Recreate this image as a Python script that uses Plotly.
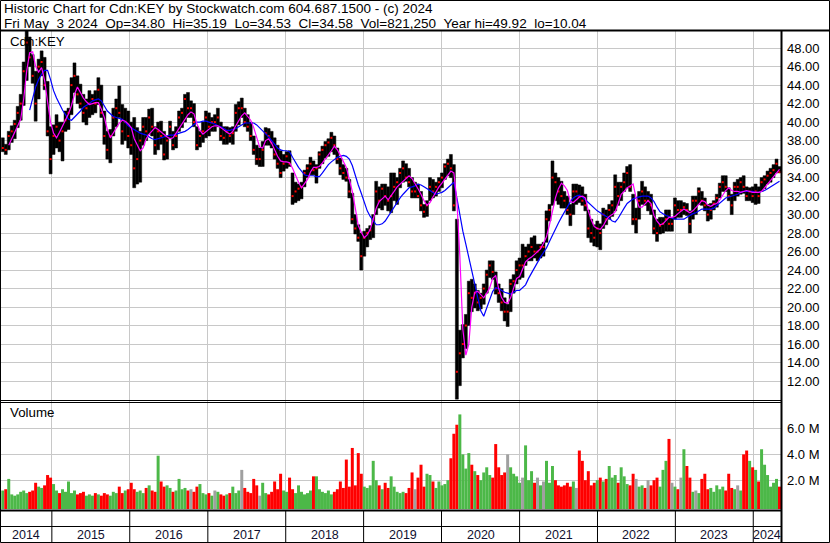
import plotly.graph_objects as go
import pandas as pd

# ---------------- data (2-week periods) ----------------
HIGH = [
    38.3, 37.6, 39.0, 39.6, 40.2, 41.7, 43.0, 46.5, 49.9, 49.2,
    47.3, 45.5, 46.8, 47.7, 47.0, 44.4, 39.5, 39.7, 40.8, 40.0,
    40.0, 41.2, 41.5, 44.8, 46.4, 45.0, 44.1, 43.0, 42.5, 43.4,
    43.0, 43.4, 44.8, 44.0, 41.2, 39.0, 39.2, 41.5, 42.5, 43.9,
    41.9, 41.5, 41.2, 40.0, 40.5, 39.4, 39.0, 40.5, 40.5, 41.4,
    41.5, 39.5, 40.0, 40.1, 39.0, 38.5, 40.1, 39.0, 39.5, 41.2,
    41.5, 43.0, 43.2, 42.3, 42.0, 39.5, 39.0, 40.0, 41.2, 41.0,
    40.5, 40.8, 41.5, 40.0, 39.5, 39.5, 39.4, 39.5, 41.9, 42.2,
    42.6, 41.5, 40.8, 40.0, 38.5, 37.5, 37.2, 37.9, 39.4, 39.3,
    39.0, 38.3, 37.5, 36.9, 36.5, 36.8, 36.9, 34.5, 33.5, 33.3,
    33.5, 34.8, 35.4, 36.2, 35.8, 35.4, 36.8, 37.4, 37.9, 38.2,
    38.9, 38.5, 37.2, 36.1, 35.4, 35.0, 33.8, 32.3, 30.0, 28.9,
    28.0, 28.2, 28.5, 28.8, 30.0, 33.6, 33.0, 33.3, 33.3, 33.0,
    34.5, 34.5, 34.0, 35.0, 35.8, 35.5, 35.0, 34.0, 33.5, 33.3,
    32.5, 31.1, 31.5, 34.0, 33.8, 33.5, 34.0, 34.5, 35.5, 36.0,
    36.5, 35.4, 29.5, 17.5, 18.1, 19.2, 22.8, 23.0, 22.5, 21.8,
    21.5, 22.5, 24.0, 25.0, 25.0, 23.8, 22.5, 22.0, 21.0, 20.3,
    23.0, 23.5, 25.0, 25.3, 26.8, 26.5, 26.8, 27.5, 27.7, 26.8,
    26.8, 27.0, 30.4, 31.1, 35.8, 34.5, 34.0, 33.6, 32.5, 32.0,
    31.1, 33.3, 33.3, 33.2, 33.0, 32.2, 30.5, 29.5, 28.9, 29.3,
    29.0, 30.7, 30.5, 31.1, 31.5, 34.3, 33.5, 33.5, 34.5, 35.2,
    35.4, 32.2, 30.7, 32.5, 33.6, 33.0, 32.5, 32.2, 30.5, 29.5,
    29.7, 29.7, 30.5, 30.5, 29.7, 31.8, 31.5, 31.5, 31.3, 31.2,
    30.4, 32.0, 32.0, 32.9, 32.5, 31.8, 31.1, 31.2, 31.5, 32.2,
    33.4, 34.2, 34.2, 32.9, 32.2, 33.5, 33.8, 34.0, 34.2, 33.0,
    32.9, 33.0, 33.3, 33.0, 34.0, 34.2, 34.7, 35.0, 35.4, 36.0,
    35.19,
]

LOW = [
    36.8, 36.5, 37.0, 37.8, 38.2, 39.4, 40.2, 41.8, 44.5, 46.0,
    44.2, 40.1, 42.5, 45.0, 43.5, 38.5, 34.4, 36.5, 37.2, 36.8,
    35.8, 39.0, 39.2, 40.8, 43.2, 42.0, 41.5, 40.0, 39.7, 40.5,
    40.8, 41.0, 41.9, 40.5, 37.6, 36.0, 35.6, 38.5, 39.5, 40.5,
    37.6, 38.0, 37.2, 36.5, 32.9, 33.3, 33.5, 37.5, 38.0, 38.7,
    38.5, 36.5, 37.0, 37.6, 35.9, 36.0, 38.3, 37.0, 37.2, 39.0,
    39.4, 40.0, 40.5, 40.5, 39.5, 37.0, 37.3, 37.8, 38.3, 38.5,
    39.0, 39.0, 39.5, 38.0, 37.6, 37.6, 37.8, 37.6, 39.0, 39.7,
    40.5, 39.5, 39.0, 38.0, 36.5, 35.4, 35.2, 35.2, 37.5, 37.5,
    37.2, 36.0, 35.0, 34.0, 34.7, 35.0, 35.2, 31.1, 31.3, 31.5,
    31.7, 33.0, 34.0, 34.3, 34.3, 33.4, 35.0, 35.5, 36.1, 36.3,
    36.8, 36.5, 35.5, 34.3, 33.8, 33.6, 31.8, 29.0, 27.9, 27.1,
    24.0, 25.5, 26.5, 27.3, 27.5, 30.0, 30.7, 30.5, 31.0, 30.4,
    30.2, 31.5, 31.1, 32.9, 33.5, 33.6, 33.0, 31.8, 31.8, 31.8,
    30.4, 29.7, 29.8, 31.5, 31.8, 32.0, 32.5, 32.9, 33.8, 34.2,
    34.0, 30.4, 10.04, 11.5, 14.5, 15.5, 18.0, 19.5, 19.9, 19.6,
    19.8, 20.3, 21.5, 23.2, 23.0, 21.4, 20.5, 19.6, 18.5, 17.9,
    19.5, 21.5, 22.5, 23.0, 23.2, 24.5, 25.0, 25.0, 25.3, 25.0,
    25.3, 25.5, 27.0, 29.3, 31.0, 31.5, 31.1, 30.7, 30.7, 30.0,
    28.8, 30.0, 31.1, 31.3, 31.0, 30.4, 27.5, 27.0, 26.6, 26.5,
    26.2, 28.5, 28.9, 29.5, 29.8, 30.4, 31.0, 31.5, 32.5, 32.9,
    32.5, 28.9, 28.0, 29.5, 31.1, 31.0, 30.4, 30.0, 27.9, 27.1,
    27.9, 28.0, 28.2, 28.2, 28.2, 29.5, 29.7, 29.7, 30.0, 29.9,
    28.0, 29.5, 30.0, 31.1, 31.0, 30.4, 29.3, 29.5, 30.5, 30.8,
    31.8, 32.5, 32.5, 31.5, 30.0, 31.5, 32.0, 32.2, 32.3, 31.5,
    31.5, 31.3, 31.1, 31.2, 32.5, 32.8, 33.3, 33.5, 34.0, 34.5,
    34.53,
]

CLOSE = [
    37.2, 37.0, 38.5, 39.0, 39.8, 41.0, 42.0, 45.5, 48.6, 47.0,
    45.0, 42.0, 46.0, 46.5, 44.0, 39.0, 36.0, 38.5, 39.5, 38.0,
    39.0, 40.2, 41.0, 44.0, 45.0, 43.0, 42.0, 41.0, 41.5, 42.0,
    42.5, 42.0, 43.5, 41.0, 38.5, 37.0, 38.5, 40.5, 41.5, 41.0,
    39.0, 40.0, 38.5, 37.5, 35.0, 36.0, 38.0, 39.5, 39.0, 40.5,
    39.5, 37.5, 39.0, 38.5, 36.5, 38.0, 39.5, 37.5, 38.5, 40.5,
    41.0, 42.5, 41.5, 41.5, 40.0, 37.5, 38.5, 39.0, 40.5, 39.5,
    40.0, 40.0, 40.5, 38.5, 38.3, 39.0, 38.5, 38.8, 41.0, 41.5,
    41.5, 40.0, 39.5, 38.5, 37.0, 36.0, 36.0, 37.0, 38.8, 38.5,
    37.8, 36.5, 35.5, 34.5, 35.5, 36.3, 35.5, 32.0, 32.5, 32.8,
    33.0, 34.5, 35.0, 35.5, 34.8, 35.0, 36.5, 37.0, 37.5, 37.8,
    38.3, 37.5, 36.0, 35.0, 34.5, 34.0, 32.5, 29.5, 28.5, 27.5,
    25.5, 27.5, 28.0, 28.3, 29.5, 32.5, 31.5, 32.8, 32.0, 31.5,
    32.0, 33.0, 33.5, 34.5, 35.0, 34.0, 33.5, 32.5, 32.5, 32.0,
    31.0, 30.3, 31.0, 33.0, 32.5, 33.0, 33.5, 34.0, 35.2, 35.5,
    35.0, 31.0, 13.0, 15.0, 16.0, 18.0, 21.5, 21.0, 21.5, 20.5,
    21.0, 22.0, 23.5, 24.5, 23.8, 22.0, 21.5, 20.5, 19.5, 19.5,
    22.5, 22.8, 24.0, 24.5, 24.5, 25.5, 26.0, 26.5, 26.0, 26.0,
    26.5, 26.5, 29.5, 30.5, 34.0, 33.5, 32.5, 32.0, 31.5, 30.5,
    30.0, 32.5, 32.5, 32.0, 31.5, 31.0, 28.5, 28.0, 27.5, 28.5,
    28.0, 30.0, 29.5, 30.5, 31.0, 33.0, 32.0, 33.0, 33.5, 34.5,
    33.0, 29.5, 29.5, 31.5, 32.5, 31.5, 31.5, 31.0, 28.5, 28.0,
    28.8, 29.0, 29.5, 29.0, 29.0, 31.0, 30.5, 30.5, 30.8, 30.5,
    29.0, 31.5, 31.5, 32.5, 31.5, 31.0, 30.0, 30.5, 31.2, 31.8,
    33.0, 33.5, 33.0, 32.0, 31.0, 33.0, 33.0, 33.5, 33.0, 32.0,
    32.5, 32.0, 32.5, 32.0, 33.5, 33.8, 34.2, 34.5, 34.8, 35.5,
    34.58,
]

MA_FAST = [
    None, None, 37.5, 38.2, 38.8, 39.6, 40.3, 42.5, 45.5, 47.5,
    47.6, 46.0, 45.4, 45.9, 44.5, 42.2, 40.0, 38.8, 38.3, 38.9,
    39.6, 40.2, 40.9, 41.8, 43.0, 43.8, 43.2, 42.6, 42.2, 41.9,
    42.0, 42.1, 42.1, 41.4, 40.5, 39.2, 38.3, 38.8, 39.4, 39.9,
    40.2, 40.1, 39.8, 39.4, 38.2, 37.5, 36.9, 37.2, 38.2, 38.7,
    39.1, 39.4, 39.2, 38.9, 38.6, 38.4, 38.2, 38.3, 38.8, 39.3,
    39.8, 40.4, 40.8, 41.1, 40.9, 39.8, 39.1, 38.7, 39.0, 39.3,
    39.5, 39.6, 39.6, 39.4, 39.1, 38.9, 38.7, 39.0, 39.6, 40.2,
    40.7, 41.0, 40.6, 40.2, 39.4, 38.4, 37.3, 37.2, 38.0, 38.2,
    37.7, 37.0, 36.3, 35.8, 35.7, 35.7, 35.6, 35.0, 34.2, 33.5,
    32.9, 33.3, 33.8, 34.6, 35.1, 35.1, 35.2, 35.6, 36.0, 36.5,
    36.9, 37.4, 37.0, 36.4, 35.7, 35.1, 33.8, 32.5, 30.7, 28.8,
    28.1, 27.5, 27.8, 28.4, 29.5, 30.7, 31.4, 31.7, 32.0, 31.6,
    32.0, 32.5, 33.0, 33.3, 33.6, 34.0, 34.2, 33.9, 33.4, 32.8,
    32.2, 31.5, 31.0, 31.3, 31.9, 32.5, 33.0, 33.4, 33.8, 34.2,
    34.7, 34.5, 31.5, 25.5, 17.6, 14.8, 16.0, 20.0, 21.6, 21.7,
    21.3, 21.0, 21.5, 22.1, 23.1, 23.4, 22.0, 21.0, 20.5, 20.4,
    21.0, 22.2, 23.1, 23.3, 24.1, 24.9, 25.2, 25.4, 25.7, 26.0,
    26.3, 26.9, 27.6, 28.9, 30.3, 31.8, 32.8, 33.4, 33.1, 32.6,
    31.4, 31.3, 31.6, 31.9, 32.0, 31.8, 30.4, 29.4, 28.7, 28.5,
    28.4, 28.8, 29.4, 29.8, 30.0, 30.3, 31.2, 32.2, 32.5, 32.9,
    33.1, 33.3, 31.8, 30.8, 30.8, 31.1, 31.5, 31.2, 29.9, 29.3,
    28.9, 29.0, 29.4, 29.7, 29.7, 29.8, 30.1, 30.4, 30.6, 30.4,
    30.2, 30.4, 30.7, 31.1, 31.5, 31.4, 31.0, 30.9, 31.1, 31.2,
    31.6, 32.1, 32.6, 32.9, 32.6, 32.5, 32.5, 32.4, 32.5, 32.6,
    32.5, 32.4, 32.4, 32.4, 32.5, 32.9, 33.3, 33.8, 34.2, 34.6,
    34.9,
]

MA_SLOW = [
    None, None, None, None, None, None, None, None, None, 41.3,
    42.6, 43.8, 44.6, 45.2, 45.6, 45.6, 44.6, 43.4, 42.6, 41.9,
    41.3, 40.8, 40.3, 40.2, 40.5, 40.9, 41.2, 41.6, 41.8, 42.0,
    42.3, 42.4, 42.5, 42.3, 41.8, 41.2, 40.9, 40.6, 40.5, 40.4,
    40.3, 40.0, 39.6, 39.4, 39.2, 39.0, 38.8, 38.7, 38.6, 38.4,
    38.2, 38.1, 38.2, 38.3, 38.4, 38.5, 38.6, 38.6, 38.7, 38.8,
    38.9, 39.0, 39.2, 39.5, 39.8, 40.0, 40.0, 40.1, 40.1, 40.0,
    39.9, 39.8, 39.6, 39.5, 39.3, 39.1, 39.1, 39.2, 39.3, 39.5,
    39.7, 39.9, 39.9, 39.9, 39.9, 39.7, 39.4, 39.1, 38.8, 38.4,
    38.0, 37.6, 37.2, 37.0, 36.9, 36.9, 36.8, 36.2, 35.6, 35.1,
    34.7, 34.3, 34.2, 34.2, 34.2, 34.1, 34.1, 34.5, 35.0, 35.4,
    35.7, 36.0, 36.2, 36.3, 36.4, 36.3, 36.0, 35.3, 34.2, 33.2,
    32.3, 31.3, 30.4, 29.8, 29.3, 28.9, 28.9, 29.0, 29.3, 29.8,
    30.4, 30.9, 31.4, 31.8, 32.2, 32.5, 32.9, 33.0, 33.1, 33.3,
    33.2, 33.0, 32.8, 32.6, 32.4, 32.2, 32.3, 32.4, 32.6, 32.9,
    33.2, 33.5, 31.8, 29.8, 28.2, 26.8, 25.4, 23.9, 22.4, 21.0,
    19.6, 19.0, 19.9, 21.0, 21.7, 22.1, 22.0, 21.8, 21.6, 21.5,
    21.4, 21.6, 21.8, 21.8, 22.1, 22.4, 23.1, 23.7, 24.3, 24.9,
    25.4, 25.9, 26.4, 27.1, 27.8, 28.4, 29.1, 29.7, 30.3, 30.9,
    31.4, 31.8, 32.0, 32.1, 31.9, 31.6, 31.3, 30.9, 30.6, 30.4,
    30.2, 30.0, 29.8, 29.6, 29.3, 29.2, 29.6, 30.2, 30.7, 31.2,
    31.5, 31.7, 31.8, 31.9, 32.0, 32.0, 32.0, 31.8, 31.4, 30.8,
    30.3, 30.1, 29.9, 29.8, 29.6, 29.5, 29.5, 29.5, 29.5, 29.7,
    29.9, 30.1, 30.2, 30.4, 30.6, 30.6, 30.6, 30.6, 30.7, 31.0,
    31.3, 31.6, 31.8, 31.9, 32.0, 32.1, 32.2, 32.4, 32.5, 32.5,
    32.5, 32.5, 32.4, 32.4, 32.5, 32.6, 32.8, 33.0, 33.2, 33.4,
    33.6,
]

VOLUME_M = [
    1.2, 1.3, 2.1, 0.9, 0.8, 0.9, 1.1, 1.2, 1.0, 1.1,
    1.2, 1.8, 1.5, 1.4, 1.6, 2.4, 2.2, 1.7, 1.2, 1.0,
    1.3, 1.1, 1.9, 1.0, 1.2, 0.9, 1.0, 1.1, 0.8, 0.9,
    0.8, 1.0, 0.9, 0.8, 1.0, 0.9, 0.8, 1.1, 1.0, 1.5,
    1.0, 1.2, 1.3, 1.8, 1.3, 1.1, 1.2, 1.0, 1.4, 1.6,
    1.2, 1.1, 3.9, 1.9, 1.5, 1.6, 1.4, 1.1, 1.2, 2.1,
    1.3, 1.4, 1.2, 1.3, 1.1, 1.5, 1.7, 1.0, 0.9, 1.0,
    0.8, 1.2, 1.1, 0.9, 0.8, 0.9, 1.0, 1.5, 1.0, 1.2,
    2.8, 1.4, 1.1, 1.0, 2.1, 1.6, 0.8, 1.8, 1.0, 0.9,
    1.1, 1.9, 1.3, 2.5, 1.2, 1.1, 2.2, 1.3, 1.0, 1.6,
    1.1, 0.9, 1.0, 1.2, 2.3, 2.3, 1.3, 1.1, 1.0, 1.2,
    0.9, 1.1, 1.3, 1.9, 1.4, 3.6, 1.5, 4.5, 1.6, 4.1,
    2.5, 1.5, 1.4, 1.6, 3.5, 2.0, 1.6, 1.3, 1.8, 1.4,
    2.3, 1.5, 1.1, 1.0, 1.1, 1.0, 1.4, 2.6, 1.3, 2.2,
    3.2, 1.5, 2.5, 2.4, 1.9, 1.4, 1.9, 1.6, 1.7, 2.0,
    3.7, 5.6, 6.3, 7.1, 4.0, 2.9, 4.1, 3.2, 2.7, 2.4,
    2.0, 2.6, 3.0, 2.4, 2.2, 4.8, 3.0, 2.4, 2.6, 4.0,
    3.0, 2.5, 2.3, 1.8, 2.2, 4.7, 2.0, 2.7, 1.8, 2.2,
    1.6, 1.9, 3.5, 1.8, 3.1, 2.0, 1.6, 1.5, 1.6, 1.8,
    1.5, 1.9, 1.4, 4.3, 3.5, 2.0, 2.7, 1.6, 1.8, 2.0,
    2.2, 1.9, 2.1, 3.1, 2.2, 2.4, 1.8, 3.0, 2.3, 1.7,
    1.6, 2.5, 2.1, 1.5, 1.6, 1.4, 2.0, 1.6, 2.0, 2.2,
    1.5, 2.8, 3.5, 5.2, 1.8, 1.5, 1.3, 2.2, 4.4, 3.1,
    2.2, 1.1, 1.2, 1.0, 2.1, 2.5, 1.3, 1.4, 1.1, 1.6,
    1.3, 1.5, 1.2, 2.5, 1.4, 1.3, 1.6, 1.2, 4.0, 4.3,
    3.5, 3.0, 2.8, 1.9, 4.4, 3.2, 2.4, 1.5, 1.8, 2.1,
    1.5,
]

YEARS = ["2014", "2015", "2016", "2017", "2018", "2019", "2020", "2021", "2022", "2023", "2024"]
PRICE_TICKS = [12, 14, 16, 18, 20, 22, 24, 26, 28, 30, 32, 34, 36, 38, 40, 42, 44, 46, 48]
VOL_TICKS_M = [2, 4, 6]
HEADER1 = "Historic Chart for Cdn:KEY by Stockwatch.com 604.687.1500 - (c) 2024"
HEADER2 = "Fri May  3 2024  Op=34.80  Hi=35.19  Lo=34.53  Cl=34.58  Vol=821,250  Year hi=49.92  lo=10.04"
SYMBOL = "Cdn:KEY"
VOL_LABEL = "Volume"
LAST_DATE = "2024-05-03"
X_START, X_END = "2014-05-03", "2024-05-10"

# ---------------- layout helpers ----------------
W, H = 830, 543
FONT = "Liberation Sans, Arial, sans-serif"


def fx(px):
    return px / W


def fy(py):
    return 1 - py / H


n = len(CLOSE)
dates = pd.date_range(end=LAST_DATE, periods=n, freq="14D")
PERIOD_MS = 14 * 24 * 3600 * 1000

GREEN, RED, GRAY = "#4CB848", "#FF0000", "#A0A0A0"
vol_colors = []
for i in range(n):
    if i == 0 or CLOSE[i] > CLOSE[i - 1]:
        vol_colors.append(GREEN)
    elif CLOSE[i] < CLOSE[i - 1]:
        vol_colors.append(RED)
    else:
        vol_colors.append(GRAY)

VOL_FLOOR = -0.233e6
VOL_TOP = 8.14e6

fig = go.Figure()
fig.add_trace(go.Bar(
    x=dates, base=LOW, y=[h - l for h, l in zip(HIGH, LOW)],
    width=PERIOD_MS, marker=dict(color="black", line=dict(width=0.5, color="black")),
    xaxis="x", yaxis="y", hoverinfo="skip"))
fig.add_trace(go.Scatter(
    x=dates, y=CLOSE, mode="markers",
    marker=dict(symbol="square", size=2, color="#FF0000", line=dict(width=0)),
    xaxis="x", yaxis="y", hoverinfo="skip"))
fig.add_trace(go.Scatter(
    x=dates, y=MA_SLOW, mode="lines", line=dict(color="#0000FF", width=1.2),
    xaxis="x", yaxis="y", hoverinfo="skip"))
fig.add_trace(go.Scatter(
    x=dates, y=MA_FAST, mode="lines", line=dict(color="#FF00FF", width=1.2),
    xaxis="x", yaxis="y", hoverinfo="skip"))
fig.add_trace(go.Bar(
    x=dates, base=VOL_FLOOR, y=[v * 1e6 - VOL_FLOOR for v in VOLUME_M],
    width=PERIOD_MS, marker=dict(color=vol_colors, line=dict(width=0)),
    xaxis="x2", yaxis="y2", hoverinfo="skip"))

year_starts = [f"{y}-01-01" for y in YEARS[1:]]
grid = "#C8C8C8"
xcommon = dict(type="date", range=[X_START, X_END], domain=[0, fx(781)],
               tickvals=year_starts, showticklabels=False, ticks="",
               showgrid=True, gridcolor=grid, gridwidth=1, zeroline=False, showline=False)

fig.update_layout(
    width=W, height=H, margin=dict(l=0, r=0, t=0, b=0, pad=0),
    paper_bgcolor="white", plot_bgcolor="white", showlegend=False,
    font=dict(family=FONT, size=13, color="black"),
    barmode="overlay",
    xaxis=dict(anchor="y", **xcommon),
    xaxis2=dict(anchor="y2", matches="x", **xcommon),
    yaxis=dict(domain=[fy(400), fy(31)], range=[9.95, 49.85], side="right", anchor="x",
               tickvals=PRICE_TICKS, ticktext=[f"{v:.2f}" for v in PRICE_TICKS],
               showgrid=True, gridcolor=grid, gridwidth=1, zeroline=False, showline=False,
               ticks="", ticklabelstandoff=5, tickfont=dict(size=13), automargin=False),
    yaxis2=dict(domain=[fy(509), fy(401)], range=[VOL_FLOOR, VOL_TOP], side="right", anchor="x2",
                tickvals=[v * 1e6 for v in VOL_TICKS_M], ticktext=[f"{v:.1f} M" for v in VOL_TICKS_M],
                showgrid=True, gridcolor=grid, gridwidth=1, zeroline=False, showline=False,
                ticks="", ticklabelstandoff=5, tickfont=dict(size=13), automargin=False),
)


def hline(y, x0, x1, w=1):
    return dict(type="line", xref="paper", yref="paper", x0=fx(x0), x1=fx(x1),
                y0=fy(y), y1=fy(y), line=dict(color="black", width=w))


def vline(x, y0, y1, w=1):
    return dict(type="line", xref="paper", yref="paper", x0=fx(x), x1=fx(x),
                y0=fy(y0), y1=fy(y1), line=dict(color="black", width=w))


shapes = [
    dict(type="rect", xref="paper", yref="paper", x0=fx(0.5), x1=fx(829.5), y0=fy(542.5), y1=fy(0.5),
         line=dict(color="black", width=1)),
    hline(30.5, 0, 830, 2),
    vline(781.5, 31, 543, 2),
    hline(400.5, 0, 782, 1),
    hline(402.5, 0, 782, 1),
    hline(510.5, 0, 782, 2),
    hline(526.5, 0, 782, 1),
]
for ys in year_starts:
    shapes.append(dict(type="line", xref="x", yref="paper", x0=ys, x1=ys,
                       y0=fy(543), y1=fy(511), line=dict(color="black", width=1)))

annotations = []
nb = lambda s: s.replace(" ", "\u00a0")
annotations.append(dict(text=nb(HEADER1), xref="paper", yref="paper", x=fx(2), y=fy(9),
                        xanchor="left", yanchor="middle", showarrow=False, font=dict(size=13.5)))
annotations.append(dict(text=nb(HEADER2), xref="paper", yref="paper", x=fx(2), y=fy(23),
                        xanchor="left", yanchor="middle", showarrow=False, font=dict(size=13.5)))
annotations.append(dict(text=SYMBOL, xref="paper", yref="paper", x=fx(8), y=fy(41),
                        xanchor="left", yanchor="middle", showarrow=False, font=dict(size=13.3)))
annotations.append(dict(text=VOL_LABEL, xref="paper", yref="paper", x=fx(8), y=fy(413),
                        xanchor="left", yanchor="middle", showarrow=False, font=dict(size=13.3)))

bounds = [pd.Timestamp(X_START)] + [pd.Timestamp(s) for s in year_starts] + [pd.Timestamp(X_END)]
for k, yr in enumerate(YEARS):
    mid = bounds[k] + (bounds[k + 1] - bounds[k]) / 2
    annotations.append(dict(text=yr, xref="x", yref="paper", x=mid, y=fy(535),
                            xanchor="center", yanchor="middle", showarrow=False,
                            font=dict(size=12.5, color="#101030")))

fig.update_layout(shapes=shapes, annotations=annotations)
fig.write_html("out.html", config={"displayModeBar": False},
               post_script="document.body.style.margin='0px';document.body.style.overflow='hidden';")
